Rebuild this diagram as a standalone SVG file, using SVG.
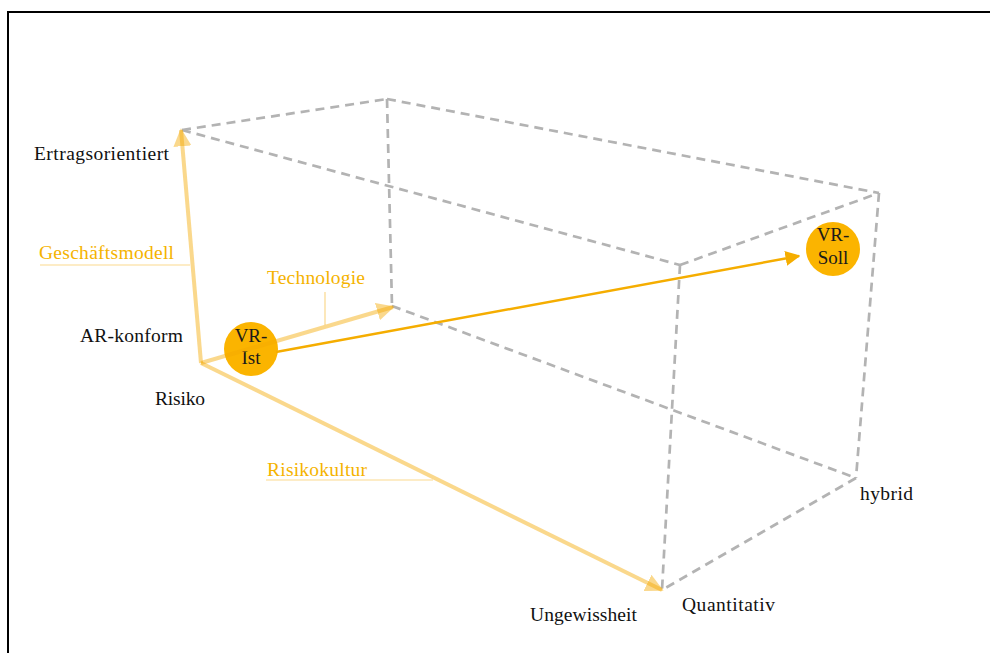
<svg xmlns="http://www.w3.org/2000/svg" width="990" height="653" viewBox="0 0 990 653">
<style>
.edge{stroke:#b3b3b3;stroke-width:2.7;stroke-dasharray:9 6;fill:none}
.axis{stroke:#f5a800;stroke-opacity:0.45;stroke-width:4;fill:none}
.lead{stroke:#f5a800;stroke-opacity:0.45;stroke-width:1.2;fill:none}
.lbl{font-family:"Liberation Serif","Times New Roman",serif;font-size:19.5px;fill:#111}
.olbl{font-family:"Liberation Serif","Times New Roman",serif;font-size:19.5px;fill:#f5b300}
.node{fill:#fbb400}
.ntxt{font-family:"Liberation Serif","Times New Roman",serif;font-size:19px;fill:#1a1a1a;text-anchor:middle}
</style>
<defs>
<marker id="ah" viewBox="0 0 10 10" refX="9" refY="5" markerWidth="4.5" markerHeight="4.5" markerUnits="strokeWidth" orient="auto">
<path d="M0,0 L10,5 L0,10 z" fill="#f5a800" fill-opacity="0.45"/>
</marker>
<marker id="ah2" viewBox="0 0 10 10" refX="9" refY="5" markerWidth="6" markerHeight="6" markerUnits="strokeWidth" orient="auto">
<path d="M0,0 L10,5 L0,10 z" fill="#f5ad00"/>
</marker>
</defs>
<rect x="8" y="12" width="1000" height="700" fill="none" stroke="#000" stroke-width="2"/>
<g id="cube">
<line class="edge" x1="182" y1="130" x2="387" y2="99"/>
<line class="edge" x1="182" y1="130" x2="680" y2="265"/>
<line class="edge" x1="387" y1="99" x2="879" y2="193"/>
<line class="edge" x1="387" y1="99" x2="392" y2="306"/>
<line class="edge" x1="680" y1="265" x2="879" y2="193"/>
<line class="edge" x1="680" y1="265" x2="662" y2="590"/>
<line class="edge" x1="879" y1="193" x2="856" y2="478"/>
<line class="edge" x1="392" y1="306" x2="856" y2="478"/>
<line class="edge" x1="856" y1="478" x2="662" y2="590"/>
</g>
<g id="node-vr-ist">
<circle class="node" cx="251" cy="349" r="27"/>
<text class="ntxt" x="251" y="342">VR-</text>
<text class="ntxt" x="251" y="364">Ist</text>
</g>
<g id="node-vr-soll">
<circle class="node" cx="833" cy="249" r="27"/>
<text class="ntxt" x="833" y="241">VR-</text>
<text class="ntxt" x="833" y="264">Soll</text>
</g>
<g id="connectors">
<line class="axis" x1="201" y1="363" x2="181" y2="130" marker-end="url(#ah)"/>
<line class="axis" x1="201" y1="363" x2="393" y2="307" marker-end="url(#ah)"/>
<line class="axis" x1="201" y1="363" x2="662" y2="590" marker-end="url(#ah)"/>
<line x1="276" y1="352" x2="799" y2="256" stroke="#f5ad00" stroke-width="2.5" marker-end="url(#ah2)"/>
<line class="lead" x1="40" y1="265" x2="190" y2="265"/>
<line class="lead" x1="325" y1="292" x2="325" y2="325"/>
<line class="lead" x1="266" y1="480" x2="433" y2="480"/>
</g>
<g id="labels">
<text class="lbl" x="34" y="160" textLength="135">Ertragsorientiert</text>
<text class="olbl" x="39" y="259" textLength="135">Geschäftsmodell</text>
<text class="olbl" x="267" y="284" textLength="98">Technologie</text>
<text class="lbl" x="80" y="342" textLength="103">AR-konform</text>
<text class="lbl" x="155" y="405" textLength="50">Risiko</text>
<text class="olbl" x="267" y="476" textLength="100">Risikokultur</text>
<text class="lbl" x="530" y="621" textLength="107">Ungewissheit</text>
<text class="lbl" x="682" y="611" textLength="93">Quantitativ</text>
<text class="lbl" x="860" y="500" textLength="53">hybrid</text>
</g>
</svg>
